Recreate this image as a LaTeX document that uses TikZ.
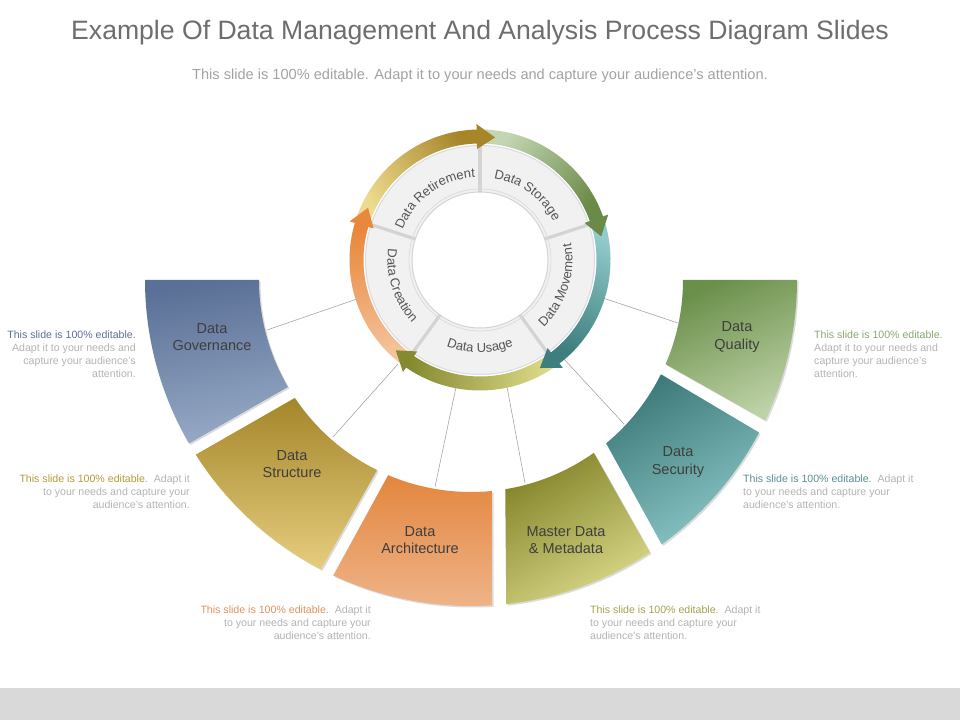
\documentclass[tikz,border=0pt]{standalone}
\usepackage{fontspec}
\setmainfont{Liberation Sans}
\usetikzlibrary{shadows,decorations.text,calc}

\definecolor{bandgray}{HTML}{D9D9D9}
\definecolor{titlegray}{HTML}{6E6E6E}
\definecolor{subgray}{HTML}{A3A3A3}
\definecolor{graytxt}{HTML}{B4B4B4}
\definecolor{labeltxt}{HTML}{3E3E3E}
\definecolor{ringtxt}{HTML}{555555}
\definecolor{seggray}{HTML}{F1F1F1}
\definecolor{divgray}{HTML}{D3D3D3}
\definecolor{ringedge}{HTML}{DADCE2}
\definecolor{linegray}{HTML}{A0A0A0}
% big segments
\definecolor{govD}{HTML}{5A7096}\definecolor{govL}{HTML}{97AAC6}
\definecolor{strD}{HTML}{A4862A}\definecolor{strL}{HTML}{E6CD7E}
\definecolor{arcD}{HTML}{E3863E}\definecolor{arcL}{HTML}{EFB489}
\definecolor{masD}{HTML}{84852A}\definecolor{masL}{HTML}{D9D98A}
\definecolor{secD}{HTML}{3E7A7A}\definecolor{secL}{HTML}{8AC6C6}
\definecolor{quaD}{HTML}{6A8F4A}\definecolor{quaL}{HTML}{BED2A7}
% text accent colours
\definecolor{govT}{HTML}{5D7193}
\definecolor{strT}{HTML}{B39C3C}
\definecolor{arcT}{HTML}{E0935C}
\definecolor{masT}{HTML}{A3A350}
\definecolor{secT}{HTML}{5A8F94}
\definecolor{quaT}{HTML}{8AA870}
% arrows
\definecolor{goldL}{HTML}{EDDA8E}\definecolor{goldD}{HTML}{A7862A}
\definecolor{grnL}{HTML}{C3D5B3}\definecolor{grnD}{HTML}{6A8B47}
\definecolor{tealL}{HTML}{93CBCB}\definecolor{tealD}{HTML}{3D7E7E}
\definecolor{oliL}{HTML}{DEDB8A}\definecolor{oliD}{HTML}{858A30}
\definecolor{oraL}{HTML}{F5C39B}\definecolor{oraD}{HTML}{E8883C}

\newcommand\bigseg[7]{%
  \path[drop shadow={shadow xshift=1.5pt,shadow yshift=-1.5pt,opacity=0.28},
        top color=#5, bottom color=#6, shading angle=#7]
   (#1:326) arc[start angle=#1, end angle=#2, radius=326]
   -- (#3:212) arc[start angle=#3, end angle=#4, radius=212] -- cycle;}

\newcommand\ringarrow[4]{%
  \pgfmathsetmacro\arbase{#2+8}%
  \pgfmathsetmacro\arang{(#1+#2)/2-180}%
  \path[bottom color=#3, top color=#4, shading angle=\arang]
   (#1:130.5) arc[start angle=#1, end angle=\arbase, radius=130.5]
   -- (\arbase:116.5) arc[start angle=\arbase, end angle=#1, radius=116.5] -- cycle;}

\newcommand\ringhead[2]{%
  \pgfmathsetmacro\arbase{#1+8.5}%
  \fill[#2] (\arbase:111) -- (#1:123.5) -- (\arbase:136) -- cycle;}

\newcommand\ringfont{\fontsize{13}{13}\selectfont}

\newcommand\toplabel[2]{%
  \pgfmathsetmacro\la{#1+55}\pgfmathsetmacro\lb{#1-55}%
  \path[decorate, decoration={text along path, text={|\ringfont|#2},
        text align=center, text color=ringtxt}]
   (\la:83) arc[start angle=\la, end angle=\lb, radius=83];}

\newcommand\botlabel[2]{%
  \pgfmathsetmacro\la{#1-55}\pgfmathsetmacro\lb{#1+55}%
  \path[decorate, decoration={text along path, text={|\ringfont|#2},
        text align=center, text color=ringtxt}]
   (\la:92.5) arc[start angle=\la, end angle=\lb, radius=92.5];}

\tikzset{
  seglabel/.style={font=\fontsize{14.5}{17.5}\selectfont, text=labeltxt, align=center, inner sep=0pt},
  smalltxt/.style={font=\fontsize{10.6}{13}\selectfont, text=graytxt, inner sep=0pt},
  connector/.style={draw=linegray, line width=0.55pt},
}

\begin{document}
\begin{tikzpicture}[x=1pt,y=1pt]
\useasboundingbox (0,0) rectangle (960,720);
\fill[white] (0,0) rectangle (960,720);
\fill[bandgray] (0,0) rectangle (960,32);

% title
\node[font=\fontsize{26.6}{30}\selectfont, text=titlegray, anchor=base, inner sep=0pt] (title) at (480,680.5)
  {Example Of Data Management And Analysis Process Diagram Slides};
\node[font=\fontsize{14.6}{16}\selectfont, text=subgray, anchor=base, inner sep=0pt] (subtitle) at (480,640)
  {This slide is 100\% editable. Adapt it to your needs and capture your audience's attention.};

% connector end points
\coordinate (cgovA) at (357,421);  \coordinate (cgovB) at (267,390);
\coordinate (cstrA) at (398,356);  \coordinate (cstrB) at (333,283);
\coordinate (carcA) at (456,333);  \coordinate (carcB) at (435,233);
\coordinate (cmasA) at (507,333);  \coordinate (cmasB) at (525,237);
\coordinate (csecA) at (563,362);  \coordinate (csecB) at (624,296);
\coordinate (cquaA) at (603,422);  \coordinate (cquaB) at (678,397);
\draw[connector] (cgovA) -- (cgovB);
\draw[connector] (cstrA) -- (cstrB);
\draw[connector] (carcA) -- (carcB);
\draw[connector] (cmasA) -- (cmasB);
\draw[connector] (csecA) -- (csecB);
\draw[connector] (cquaA) -- (cquaB);

% big outer segments
\begin{scope}[shift={(471,440)}]
  \bigseg{180}{210.1}{210.3}{180}{govD}{govL}{10}
  \bigseg{212.4}{242.6}{243.7}{213.8}{strD}{strL}{0}
  \bigseg{245}{273.7}{275.7}{247}{arcD}{arcL}{0}
  \bigseg{276.2}{303.3}{305.4}{279.3}{masD}{masL}{30}
  \bigseg{305.8}{332.1}{333.6}{309.6}{secD}{secL}{30}
  \bigseg{334.5}{360}{360}{336.6}{quaD}{quaL}{25}
\end{scope}

\node[seglabel] (lgov) at (212,383) {Data\\Governance};
\node[seglabel] (lstr) at (292,256) {Data\\Structure};
\node[seglabel] (larc) at (420,180) {Data\\Architecture};
\node[seglabel] (lmas) at (566,180) {Master Data\\\& Metadata};
\node[seglabel] (lsec) at (678,258) {Data\\Security};
\node[seglabel] (lqua) at (737,383) {Data\\Quality};

% inner ring
\begin{scope}[shift={(480,460)}]
  \fill[seggray, even odd rule] (0,0) circle[radius=115] (0,0) circle[radius=68];
  \foreach \d in {18,90,162,234,306} {
    \draw[divgray, line width=3.2pt] (\d:68) -- (\d:115);
  }
  \draw[ringedge, line width=1pt] (0,0) circle[radius=114.5];
  \draw[divgray, line width=1pt] (0,0) circle[radius=68];
  \draw[ringedge, line width=0.8pt] (0,0) circle[radius=71];

  \toplabel{126}{Data Retirement}
  \toplabel{54}{Data Storage}
  \botlabel{-18}{Data Movement}
  \botlabel{-90}{Data Usage}
  \botlabel{198}{Data Creation}

  % arrows
  \ringarrow{232}{155}{oraL}{oraD}
  \ringarrow{160}{83}{goldL}{goldD}
  \ringarrow{88}{11}{grnL}{grnD}
  \ringarrow{16}{-61}{tealL}{tealD}
  \ringarrow{-56}{-133}{oliL}{oliD}
  \ringhead{155}{oraD}
  \ringhead{83}{goldD}
  \ringhead{11}{grnD}
  \ringhead{-61}{tealD}
  \ringhead{-133}{oliD}
\end{scope}

% descriptive texts
\node[smalltxt, anchor=north east, align=right] (tgov) at (136,389)
  {\textcolor{govT}{This slide is 100\% editable.}\\Adapt it to your needs and\\capture your audience's\\attention.};
\node[smalltxt, anchor=north east, align=right] (tstr) at (190,245)
  {\textcolor{strT}{This slide is 100\% editable.}\ \ Adapt it\\to your needs and capture your\\audience's attention.};
\node[smalltxt, anchor=north east, align=right] (tarc) at (371,114)
  {\textcolor{arcT}{This slide is 100\% editable.}\ \ Adapt it\\to your needs and capture your\\audience's attention.};
\node[smalltxt, anchor=north west, align=left] (tmas) at (590,114)
  {\textcolor{masT}{This slide is 100\% editable.}\ \ Adapt it\\to your needs and capture your\\audience's attention.};
\node[smalltxt, anchor=north west, align=left] (tsec) at (743,245)
  {\textcolor{secT}{This slide is 100\% editable.}\ \ Adapt it\\to your needs and capture your\\audience's attention.};
\node[smalltxt, anchor=north west, align=left] (tqua) at (814,389)
  {\textcolor{quaT}{This slide is 100\% editable.}\\Adapt it to your needs and\\capture your audience's\\attention.};
\end{tikzpicture}
\end{document}
